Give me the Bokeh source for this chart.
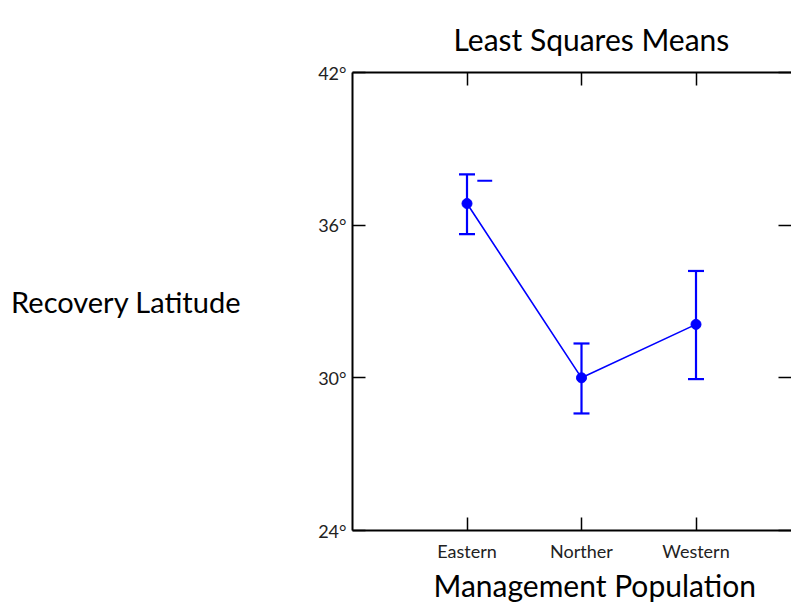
from bokeh.plotting import figure
from bokeh.models import (Range1d, FixedTicker, LinearAxis, Title, Whisker,
                          ColumnDataSource, TeeHead)
from bokeh.embed import file_html
from bokeh.resources import INLINE

categories = ["Eastern", "Norther", "Western"]
means = [36.85, 30.0, 32.1]
upper = [38.0, 31.35, 34.2]
lower = [35.65, 28.6, 29.95]
stray_value = [37.75, None, None]   # short stray mark beside Eastern
y_ticks = [24, 30, 36, 42]
y_tick_labels = ["24°", "30°", "36°", "42°"]

FONT = "Lato"
BLUE = "#0000FF"

xs = list(range(1, len(categories) + 1))

p = figure(width=791, height=602, output_backend="svg", toolbar_location=None,
           x_range=Range1d(0, 3.834), y_range=Range1d(24, 42),
           min_border_left=352, min_border_top=72, min_border_bottom=72,
           min_border_right=0, x_axis_location=None, y_axis_location=None)
p.xgrid.visible = False
p.ygrid.visible = False
p.outline_line_color = None
p.background_fill_color = "white"
p.border_fill_color = "white"

def mk_axis(ticks, labels):
    ax = LinearAxis()
    ax.ticker = FixedTicker(ticks=ticks)
    ax.axis_line_color = "black"
    ax.axis_line_width = 2
    ax.major_tick_in = 13
    ax.major_tick_out = 0
    ax.major_tick_line_width = 1.5
    ax.minor_tick_line_color = None
    ax.major_label_text_font = FONT
    ax.major_label_text_font_size = "18px"
    ax.major_label_text_color = "#222222"
    if labels is None:
        ax.major_label_overrides = {t: "" for t in ticks}
        ax.major_label_standoff = 0
    else:
        ax.major_label_overrides = {t: s for t, s in zip(ticks, labels)}
    return ax

xb = mk_axis(xs, categories)
xb.major_label_standoff = 9
p.add_layout(xb, "below")

xt = mk_axis(xs, None)
p.add_layout(xt, "above")

yl = mk_axis(y_ticks, y_tick_labels)
yl.major_label_standoff = 6
yl.axis_label = "Recovery Latitude"
yl.axis_label_orientation = "horizontal"
yl.axis_label_text_font = FONT
yl.axis_label_text_font_size = "29px"
yl.axis_label_text_font_style = "normal"
yl.axis_label_text_color = "black"
yl.axis_label_standoff = 74
p.add_layout(yl, "left")

yr = mk_axis(y_ticks, None)
yr.axis_line_color = None
p.add_layout(yr, "right")

src = ColumnDataSource(dict(x=xs, m=means, up=upper, lo=lower))
p.line("x", "m", source=src, line_color=BLUE, line_width=1.6)
w = Whisker(base="x", upper="up", lower="lo", source=src,
            line_color=BLUE, line_width=2.2,
            upper_head=TeeHead(size=16, line_color=BLUE, line_width=2.2),
            lower_head=TeeHead(size=16, line_color=BLUE, line_width=2.2))
p.add_layout(w)
p.scatter("x", "m", source=src, size=10, color=BLUE)

sx0 = [x + 0.09 for x, v in zip(xs, stray_value) if v is not None]
sx1 = [x + 0.22 for x, v in zip(xs, stray_value) if v is not None]
sv = [v for v in stray_value if v is not None]
p.segment(x0=sx0, x1=sx1, y0=sv, y1=sv, line_color=BLUE, line_width=2)

def mk_title(text, offset, standoff, valign):
    return Title(text=text, align="left", offset=offset, standoff=standoff,
                 vertical_align=valign,
                 text_font=FONT, text_font_size="30px",
                 text_font_style="normal", text_color="black")

p.add_layout(mk_title("Least Squares Means", 101, 27, "top"), "above")
p.add_layout(mk_title("Management Population", 81, 0, "bottom"), "below")

open("out.html", "w").write(file_html(p, INLINE))
